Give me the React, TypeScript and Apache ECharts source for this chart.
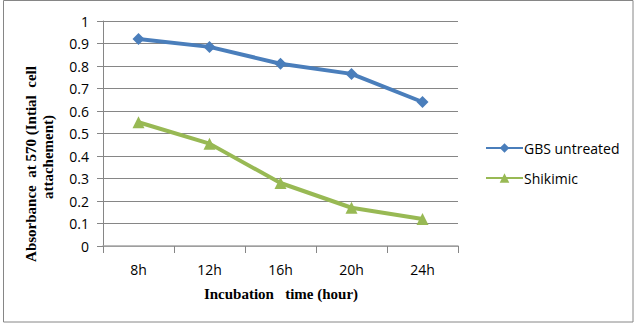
import React, { useEffect, useRef } from "react";
import * as echarts from "echarts";

const categories = ["8h", "12h", "16h", "20h", "24h"];
const gbsUntreated = [0.92, 0.885, 0.81, 0.765, 0.64];
const shikimic = [0.55, 0.455, 0.28, 0.17, 0.12];
const seriesNames = ["GBS untreated", "Shikimic"];
const yTitleLines = ["Absorbance  at 570 (Intial  cell", "attachement)"];
const xTitle = "Incubation   time (hour)";

export default function App() {
  const ref = useRef<HTMLDivElement>(null);
  useEffect(() => {
    if (!ref.current) return;
    const chart = echarts.init(ref.current, null, { renderer: "svg" });
    const tickFont = { fontFamily: "Open Sans", fontSize: 14, color: "#000" };
    chart.setOption({
      animation: false,
      backgroundColor: "#fff",
      grid: { left: 103, top: 21, right: 179, bottom: 79, containLabel: false },
      legend: {
        orient: "vertical",
        left: 480,
        top: 136,
        itemWidth: 37,
        itemHeight: 12,
        itemGap: 16,
        textStyle: { ...tickFont, padding: [0, 0, 0, -4] },
        data: seriesNames,
      },
      xAxis: {
        type: "category",
        data: categories,
        boundaryGap: true,
        axisLine: { lineStyle: { color: "#A6A6A6", width: 1.5 } },
        axisTick: { show: true, length: 7, lineStyle: { color: "#868686" } },
        axisLabel: { ...tickFont, margin: 16 },
        splitLine: { show: false },
      },
      yAxis: {
        type: "value",
        min: 0,
        max: 1,
        interval: 0.1,
        axisLine: { show: true, lineStyle: { color: "#868686" } },
        axisTick: { show: true, length: 6, lineStyle: { color: "#868686" } },
        axisLabel: { ...tickFont, margin: 14 },
        splitLine: { lineStyle: { color: "#868686", width: 1 } },
      },
      graphic: [
        {
          type: "rect",
          shape: { x: 3.5, y: 0.5, width: 629.5, height: 321.5 },
          style: { fill: "none", stroke: "#868686", lineWidth: 1 },
          silent: true,
        },
        {
          type: "text",
          x: 31,
          y: 164,
          rotation: Math.PI / 2,
          style: {
            text: yTitleLines[0],
            font: "bold 15px 'Liberation Serif'",
            fill: "#000",
            align: "center",
            verticalAlign: "middle",
          },
        },
        {
          type: "text",
          x: 48,
          y: 157,
          rotation: Math.PI / 2,
          style: {
            text: yTitleLines[1],
            font: "bold 15px 'Liberation Serif'",
            fill: "#000",
            align: "center",
            verticalAlign: "middle",
          },
        },
        {
          type: "text",
          x: 281,
          y: 294,
          style: {
            text: xTitle,
            font: "bold 15px 'Liberation Serif'",
            fill: "#000",
            align: "center",
            verticalAlign: "middle",
          },
        },
      ],
      series: [
        {
          name: seriesNames[0],
          type: "line",
          data: gbsUntreated,
          symbol: "diamond",
          symbolSize: 12,
          color: "#4A7EBB",
          lineStyle: { width: 4, color: "#4A7EBB" },
          itemStyle: { color: "#4A7EBB" },
        },
        {
          name: seriesNames[1],
          type: "line",
          data: shikimic,
          symbol: "triangle",
          symbolSize: 12,
          color: "#98B954",
          lineStyle: { width: 4, color: "#98B954" },
          itemStyle: { color: "#98B954" },
        },
      ],
    });
    return () => chart.dispose();
  }, []);
  return (
    <div
      ref={ref}
      style={{ position: "fixed", left: 0, top: 0, width: 637, height: 325 }}
    />
  );
}
